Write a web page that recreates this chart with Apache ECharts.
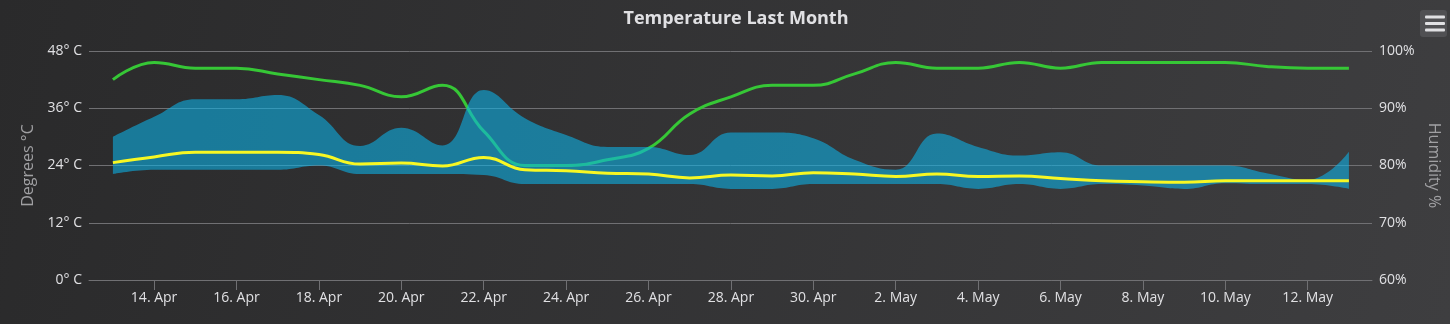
<!DOCTYPE html>
<html>
<head>
<meta charset="utf-8">
<script src="https://cdn.jsdelivr.net/npm/echarts@6/dist/echarts.min.js"></script>
<style>
html,body{margin:0;padding:0;background:#2a2a2b;}
#c{width:1450px;height:324px;}
</style>
</head>
<body>
<div id="c"></div>
<script>
// Day labels (index 0 = 13 Apr ... 30 = 13 May)
const dayLabels = ["13. Apr","14. Apr","15. Apr","16. Apr","17. Apr","18. Apr","19. Apr","20. Apr","21. Apr","22. Apr",
  "23. Apr","24. Apr","25. Apr","26. Apr","27. Apr","28. Apr","29. Apr","30. Apr","1. May","2. May",
  "3. May","4. May","5. May","6. May","7. May","8. May","9. May","10. May","11. May","12. May","13. May"];
const tickDays = [1,3,5,7,9,11,13,15,17,19,21,23,25,27,29];
const humidity = [95,98,97,97,96,95,94,92,94,86,80,80,81,83,89,92,94,94,96,98,97,97,98,97,98,98,98,98,97.3,97,97];
const tempAvg = [24.6,25.8,26.8,26.8,26.8,26.3,24.3,24.5,23.9,25.7,23.1,22.9,22.4,22.2,21.4,22.0,21.8,22.5,22.2,21.7,22.2,21.7,21.8,21.3,20.8,20.6,20.5,20.8,20.8,20.8,20.8];
const tempMax = [30.0,34.2,37.9,37.9,38.8,34.6,28.1,31.9,28.2,39.8,33.9,30.4,27.9,27.9,26.2,30.9,30.9,29.7,25.2,23.1,30.7,27.9,26.1,26.8,24.0,24.0,24.0,24.0,22.4,21.0,26.9];
const tempMin = [22.2,23.1,23.1,23.1,23.1,24.0,22.2,22.2,22.2,22.0,20.1,20.1,20.1,20.1,20.1,19.1,19.1,20.1,20.1,20.1,20.1,19.1,20.1,19.1,20.1,19.8,19.1,20.3,20.1,20.1,19.1];

const pairs = (arr) => arr.map((v, i) => [i, v]);
// value first so that the stacked dimension is the y value
const lowPairs = tempMin.map((v, i) => [v, i]);
const spanPairs = tempMax.map((v, i) => [+(v - tempMin[i]).toFixed(2), i]);

const chart = echarts.init(document.getElementById('c'), null, {renderer: 'canvas'});
const font = "'Open Sans', 'DejaVu Sans', sans-serif";
chart.setOption({
  animation: false,
  backgroundColor: {
    type: 'linear', x: 0, y: 0, x2: 1, y2: 1,
    colorStops: [{offset: 0, color: '#2a2a2b'}, {offset: 1, color: '#3e3e40'}]
  },
  title: {
    text: 'Temperature Last Month',
    left: 731, top: 5, textAlign: 'center',
    textStyle: {color: '#E0E0E3', fontSize: 18, fontWeight: 'bold', fontFamily: font}
  },
  grid: {left: 89, right: 78, top: 51, bottom: 44},
  xAxis: {
    type: 'value', min: -0.58, max: 30.56,
    splitLine: {show: false},
    axisLine: {show: true, onZero: false, lineStyle: {color: '#707073', width: 1}},
    axisTick: {show: true, customValues: tickDays, length: 10, inside: false, lineStyle: {color: '#707073'}},
    axisLabel: {
      customValues: tickDays, color: '#E0E0E3', fontSize: 14, fontFamily: font, margin: 11,
      formatter: (v) => dayLabels[Math.round(v)]
    }
  },
  yAxis: [{
    type: 'value', min: 0, max: 48, interval: 12, position: 'left',
    name: 'Degrees °C', nameLocation: 'middle', nameGap: 53, nameRotate: 90,
    nameTextStyle: {color: '#A0A0A3', fontSize: 16, fontFamily: font},
    axisLine: {show: false}, axisTick: {show: false},
    axisLabel: {color: '#E0E0E3', fontSize: 14, fontFamily: font, margin: 7, formatter: '{value}° C'},
    splitLine: {lineStyle: {color: '#707073', width: 1}}
  }, {
    type: 'value', min: 60, max: 100, interval: 10, position: 'right',
    name: 'Humidity %', nameLocation: 'middle', nameGap: 52, nameRotate: -90,
    nameTextStyle: {color: '#A0A0A3', fontSize: 16, fontFamily: font},
    axisLine: {show: false}, axisTick: {show: false},
    axisLabel: {color: '#E0E0E3', fontSize: 14, fontFamily: font, margin: 7, formatter: '{value}%'},
    splitLine: {show: false}
  }],
  series: [{
    name: 'Humidity', type: 'line', yAxisIndex: 1, data: pairs(humidity),
    smooth: 0.45, symbol: 'none', z: 1,
    lineStyle: {color: '#36c736', width: 3}
  }, {
    name: 'TempMin', type: 'line', yAxisIndex: 0, data: lowPairs, encode: {x: 1, y: 0}, stack: 'range',
    smooth: 0.45, symbol: 'none', z: 2,
    lineStyle: {width: 0, opacity: 0}, areaStyle: {opacity: 0}
  }, {
    name: 'Range', type: 'line', yAxisIndex: 0, data: spanPairs, encode: {x: 1, y: 0}, stack: 'range',
    smooth: 0.45, symbol: 'none', z: 2,
    lineStyle: {width: 0, opacity: 0},
    areaStyle: {color: 'rgb(12,180,232)', opacity: 0.58}
  }, {
    name: 'Temperature', type: 'line', yAxisIndex: 0, data: pairs(tempAvg),
    smooth: 0.45, symbol: 'none', z: 3,
    lineStyle: {color: '#f7f723', width: 3}
  }],
  graphic: [{
    type: 'rect', shape: {x: 1420, y: 10, width: 27, height: 27, r: 3},
    style: {fill: '#505053'}
  }, {
    type: 'rect', shape: {x: 1425, y: 15.5, width: 20, height: 3, r: 1}, style: {fill: '#E0E0E3'}
  }, {
    type: 'rect', shape: {x: 1425, y: 22, width: 20, height: 3, r: 1}, style: {fill: '#E0E0E3'}
  }, {
    type: 'rect', shape: {x: 1425, y: 28.5, width: 20, height: 3, r: 1}, style: {fill: '#E0E0E3'}
  }]
});
</script>
</body>
</html>
